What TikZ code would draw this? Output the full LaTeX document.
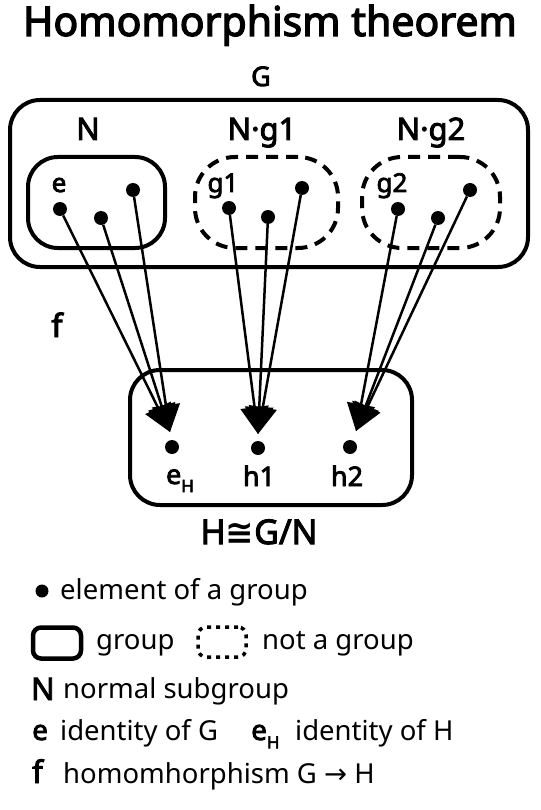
\documentclass[tikz,border=0pt]{standalone}
\usepackage{fontspec}
\setmainfont{Noto Sans}[BoldFont={Noto Sans}, BoldFeatures={FakeBold=3}]
\newfontfamily\symfont{DejaVu Sans}
\usetikzlibrary{arrows.meta}
\tikzset{
  grp/.style={draw, line width=4pt, rounded corners=30pt, inner sep=0pt},
  notgrp/.style={draw, line width=4pt, rounded corners=40pt, inner sep=0pt, dash pattern=on 12pt off 8pt},
  elem/.style={circle, fill, inner sep=0pt, minimum size=14pt},
  map/.style={line width=2.5pt, -{Triangle[length=27pt,width=28pt]}},
  lbl/.style={inner sep=0pt, anchor=base, font=\fontsize{26}{28}\selectfont\bfseries},
  big/.style={inner sep=0pt, anchor=base, font=\fontsize{31}{34}\selectfont\bfseries},
  leg/.style={inner sep=0pt, anchor=base west, font=\fontsize{27.5}{30}\selectfont},
  legsym/.style={inner sep=0pt, anchor=base west, font=\fontsize{31}{33}\selectfont\bfseries},
}
\begin{document}
\begin{tikzpicture}[x=1pt,y=-1pt]
\useasboundingbox (0,0) rectangle (540,810);
% title
\node[inner sep=0pt, anchor=base, font=\fontsize{41}{44}\selectfont\bfseries] (title) at (270,36) {Homomorphism theorem};
% group G
\node[big, font=\fontsize{27}{30}\selectfont\bfseries] (Glbl) at (261,86) {G};
\node[grp, minimum width=518pt, minimum height=167pt] (G) at (269,183.5) {};
\node[big] (Nlbl) at (88,140) {N};
\node[big] (Ng1lbl) at (262,140) {N·g1};
\node[big] (Ng2lbl) at (431,140) {N·g2};
% subsets
\node[grp, minimum width=137pt, minimum height=91pt] (N) at (96.5,202.5) {};
\node[notgrp, minimum width=143pt, minimum height=91pt] (C1) at (266.5,202.5) {};
\node[notgrp, minimum width=138pt, minimum height=91pt] (C2) at (431,202.5) {};
% labels in subsets
\node[lbl] (elbl) at (59,192) {e};
\node[lbl] (g1lbl) at (223,192) {g1};
\node[lbl] (g2lbl) at (392,192) {g2};
% elements of G
\node[elem] (e) at (60,209) {};
\node[elem] (n2) at (101,218) {};
\node[elem] (n3) at (133,190) {};
\node[elem] (g1) at (229,208) {};
\node[elem] (a2) at (268,217) {};
\node[elem] (a3) at (302,188) {};
\node[elem] (g2) at (398,209) {};
\node[elem] (b2) at (438,218) {};
\node[elem] (b3) at (470,190) {};
% f
\node[inner sep=0pt, anchor=base, font=\fontsize{32}{34}\selectfont\bfseries] (f) at (57,337) {f};
% group H
\node[grp, minimum width=282pt, minimum height=135pt] (H) at (271,437.5) {};
\node[elem] (eH) at (172,447) {};
\node[elem] (h1) at (258,448) {};
\node[elem] (h2) at (350,447) {};
\node[lbl, font=\fontsize{27}{30}\selectfont\bfseries] (eHlbl) at (180,484) {e\raisebox{-0.3em}{\fontsize{17}{18}\selectfont H}};
\node[lbl, font=\fontsize{27}{30}\selectfont\bfseries] (h1lbl) at (259,486) {h1};
\node[lbl, font=\fontsize{27}{30}\selectfont\bfseries] (h2lbl) at (347,486) {h2};
\node[big, font=\fontsize{34}{36}\selectfont\bfseries] (Hlbl) at (259,544) {H{\symfont\bfseries ≅}G/N};
% arrow tips
\coordinate (tE) at (170,432);
\coordinate (t1) at (258,434);
\coordinate (t2) at (356,431);
\draw[map] (e) -- (tE);
\draw[map] (n2) -- (tE);
\draw[map] (n3) -- (tE);
\draw[map] (g1) -- (t1);
\draw[map] (a2) -- (t1);
\draw[map] (a3) -- (t1);
\draw[map] (g2) -- (t2);
\draw[map] (b2) -- (t2);
\draw[map] (b3) -- (t2);
% legend
\node[elem, minimum size=13pt] (legdot) at (42,591) {};
\node[leg] (legdottxt) at (60,599) {element of a group};
\node[draw, line width=4.5pt, rounded corners=8pt, minimum width=48pt, minimum height=31pt, inner sep=0pt] (leggrp) at (57,643) {};
\node[leg] (leggrptxt) at (96,649) {group};
\node[draw, line width=3.5pt, rounded corners=8pt, dash pattern=on 4pt off 5pt, minimum width=48pt, minimum height=30pt, inner sep=0pt] (legng) at (222,642) {};
\node[leg] (legngtxt) at (262,649) {not a group};
\node[legsym] (legN) at (31,700) {N};
\node[leg] (legNtxt) at (63,698) {normal subgroup};
\node[legsym, font=\fontsize{28}{30}\selectfont\bfseries] (lege) at (32,740) {e};
\node[leg] (legetxt) at (60,740) {identity of G};
\node[legsym, font=\fontsize{28}{30}\selectfont\bfseries] (legeH) at (251,740) {e\raisebox{-0.3em}{\fontsize{17}{18}\selectfont H}};
\node[leg] (legeHtxt) at (295,740) {identity of H};
\node[legsym] (legf) at (32,783) {f};
\node[leg] (legftxt) at (63,783) {homomhorphism G {\symfont →} H};
\end{tikzpicture}
\end{document}
